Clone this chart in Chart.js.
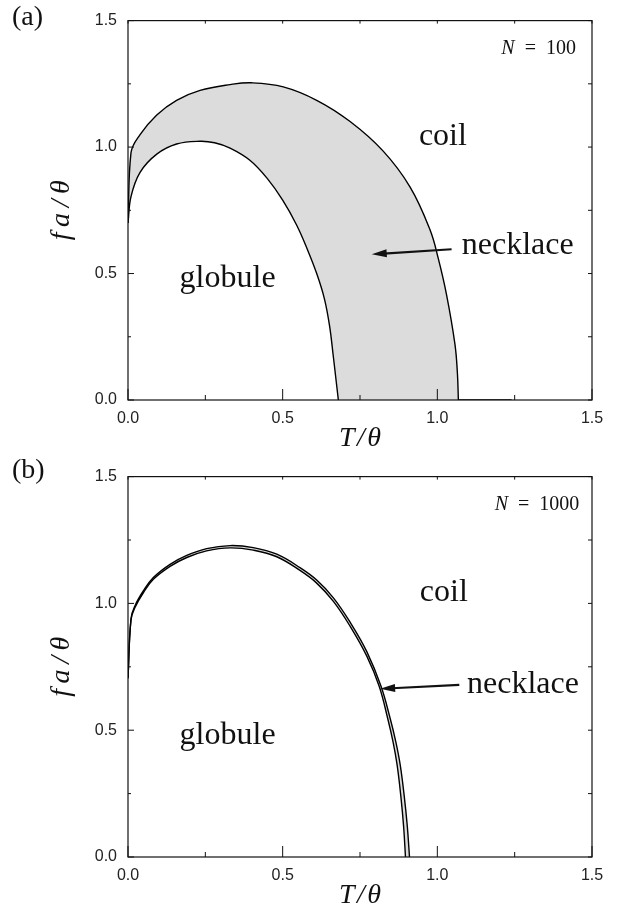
<!DOCTYPE html>
<html>
<head>
<meta charset="utf-8">
<script src="https://cdn.jsdelivr.net/npm/chart.js@4.4.0/dist/chart.umd.min.js"></script>
<style>
	body { margin:0; background:#fff; width:621px; height:907px; overflow:hidden; position:relative; }
	canvas { position:absolute; left:0; }
</style>
</head>
<body>
<canvas id="ca" width="621" height="460" style="top:0px"></canvas>
<canvas id="cb" width="621" height="451" style="top:456px"></canvas>
<script>
// panel (a), N = 100 : outer boundary (coil side) and inner boundary (globule side)
const aOuterT = [0, 0.0097, 0.039, 0.093, 0.157, 0.233, 0.33, 0.40, 0.502, 0.61, 0.718, 0.825, 0.912, 0.976, 1.003, 1.030, 1.057, 1.065, 1.068]
const aOuterF = [0.70, 0.978, 1.049, 1.127, 1.185, 1.224, 1.247, 1.254, 1.238, 1.185, 1.101, 0.984, 0.842, 0.674, 0.560, 0.415, 0.220, 0.104, 0]
const aInnerT = [0, 0.0097, 0.039, 0.093, 0.157, 0.233, 0.28, 0.33, 0.394, 0.45, 0.50, 0.545, 0.58, 0.61, 0.635, 0.652, 0.663, 0.672, 0.680]
const aInnerF = [0.70, 0.804, 0.90, 0.972, 1.012, 1.023, 1.017, 0.996, 0.948, 0.876, 0.790, 0.692, 0.595, 0.50, 0.40, 0.29, 0.18, 0.085, 0]
// coil line running on along f = 0
const aTailT = [1.068, 1.24]
const aTailF = [0, 0]

// panel (b), N = 1000 : the two boundaries almost coincide
const bOuterT = [0, 0.0097, 0.023, 0.05, 0.082, 0.136, 0.19, 0.254, 0.33, 0.405, 0.481, 0.556, 0.61, 0.664, 0.718, 0.772, 0.818, 0.848, 0.866, 0.880, 0.893, 0.903, 0.910]
const bOuterF = [0.705, 0.940, 0.992, 1.050, 1.102, 1.154, 1.189, 1.216, 1.228, 1.220, 1.194, 1.141, 1.092, 1.022, 0.926, 0.810, 0.673, 0.544, 0.453, 0.363, 0.240, 0.120, 0]
const bInnerT = [0, 0.0097, 0.023, 0.05, 0.082, 0.136, 0.19, 0.254, 0.33, 0.405, 0.481, 0.556, 0.61, 0.664, 0.718, 0.772, 0.812, 0.840, 0.857, 0.870, 0.882, 0.891, 0.897]
const bInnerF = [0.705, 0.935, 0.985, 1.043, 1.095, 1.146, 1.181, 1.207, 1.219, 1.210, 1.184, 1.130, 1.080, 1.008, 0.910, 0.792, 0.673, 0.544, 0.453, 0.363, 0.240, 0.120, 0]

// axes
const tickMajor = [0, 0.5, 1.0, 1.5]
const tickMinor = [0.25, 0.75, 1.25]

const pts = (t, f) => t.map((v, i) => ({x:v, y:f[i]}))
const serif = '"Liberation Serif", "Times New Roman", serif'
const sans = '"Liberation Sans", Arial, sans-serif'

// frame, inward ticks, axis titles and annotations
const deco = {
	id: 'deco',
	afterDraw(chart, args, o) {
		const {ctx, chartArea: ca, scales: {x, y}} = chart
		ctx.save()
		ctx.strokeStyle = '#111'
		ctx.lineWidth = 1.2
		ctx.strokeRect(ca.left, ca.top, ca.right - ca.left, ca.bottom - ca.top)
		ctx.lineWidth = 1
		const tick = (x1, y1, x2, y2) => { ctx.beginPath(); ctx.moveTo(x1, y1); ctx.lineTo(x2, y2); ctx.stroke() }
		tickMajor.concat(tickMinor).forEach(v => {
			const big = tickMajor.includes(v)
			const px = x.getPixelForValue(v), py = y.getPixelForValue(v)
			tick(px, ca.bottom, px, ca.bottom - (big ? 11 : 5))
			tick(px, ca.top, px, ca.top + 3)
			tick(ca.left, py, ca.left + (big ? 6 : 3), py)
			tick(ca.right, py, ca.right - 4, py)
		})

		ctx.fillStyle = '#111'
		// axis titles
		ctx.font = 'italic 28px ' + serif
		ctx.textAlign = 'center'
		ctx.textBaseline = 'middle'
		ctx.fillText('T\u200a/\u200aθ', (ca.left + ca.right) / 2, ca.bottom + 39)
		ctx.save()
		ctx.translate(62, (ca.top + ca.bottom) / 2)
		ctx.rotate(-Math.PI / 2)
		ctx.fillText('f\u2009a\u2009/\u2009θ', 0, 0)
		ctx.restore()

		// panel letter
		ctx.font = '28px ' + serif
		ctx.textAlign = 'left'
		ctx.fillText(o.panel, 12, o.panelY)

		// N = ...
		ctx.textAlign = 'right'
		ctx.font = '20px ' + serif
		const nx = x.getPixelForValue(o.n.x), ny = y.getPixelForValue(o.n.y)
		ctx.fillText('\u2002=\u2002' + o.n.t, nx, ny)
		const w = ctx.measureText('\u2002=\u2002' + o.n.t).width
		ctx.font = 'italic 20px ' + serif
		ctx.fillText('N', nx - w, ny)

		// region names
		ctx.font = '32px ' + serif
		ctx.textBaseline = 'alphabetic'
		o.labels.forEach(l => {
			ctx.textAlign = l.align
			ctx.fillText(l.t, x.getPixelForValue(l.x), y.getPixelForValue(l.y))
		})

		// arrow to the necklace band
		const x0 = x.getPixelForValue(o.arrow[0]), y0 = y.getPixelForValue(o.arrow[1])
		const x1 = x.getPixelForValue(o.arrow[2]), y1 = y.getPixelForValue(o.arrow[3])
		const ang = Math.atan2(y1 - y0, x1 - x0)
		ctx.lineWidth = 2.2
		ctx.beginPath()
		ctx.moveTo(x0, y0)
		ctx.lineTo(x1 - 12 * Math.cos(ang), y1 - 12 * Math.sin(ang))
		ctx.stroke()
		ctx.beginPath()
		ctx.moveTo(x1, y1)
		ctx.lineTo(x1 - 15 * Math.cos(ang) + 4 * Math.sin(ang), y1 - 15 * Math.sin(ang) - 4 * Math.cos(ang))
		ctx.lineTo(x1 - 15 * Math.cos(ang) - 4 * Math.sin(ang), y1 - 15 * Math.sin(ang) + 4 * Math.cos(ang))
		ctx.closePath()
		ctx.fill()
		ctx.restore()
	}
}

// the gray band: outer curve filled gray down to f = 0, inner curve filled white over it
const curve = (data, fillColor) => ({
	data: data,
	borderColor: '#000',
	borderWidth: 1.4,
	backgroundColor: fillColor || 'rgba(0,0,0,0)',
	fill: fillColor ? 'origin' : false,
	pointRadius: 0,
	tension: 0.4,
})

const panel = (id, datasets, padTop, xHeight, opts) => new Chart(document.getElementById(id), {
	type: 'line',
	data: { datasets: datasets },
	options: {
		responsive: false,
		animation: false,
		events: [],
		layout: { padding: { top: padTop, right: 29, left: 0, bottom: 0 } },
		plugins: {
			legend: { display: false },
			tooltip: { enabled: false },
			filler: { drawTime: 'beforeDatasetsDraw' },
			deco: opts,
		},
		scales: {
			x: {
				type: 'linear', min: 0, max: 1.5,
				grid: { display: false, drawTicks: false },
				border: { display: false },
				ticks: { stepSize: 0.5, padding: 9, color: '#222', font: { family: sans, size: 16 }, callback: v => v.toFixed(1) },
				afterFit: s => { s.height = xHeight },
			},
			y: {
				type: 'linear', min: 0, max: 1.5,
				grid: { display: false, drawTicks: false },
				border: { display: false },
				ticks: { stepSize: 0.5, padding: 11, color: '#222', font: { family: sans, size: 16 }, callback: v => v.toFixed(1) },
				afterFit: s => { s.width = 128 },
			}
		}
	},
	plugins: [deco]
})

// fills are painted from the last dataset to the first, so gray (index 1) goes under white (index 0)
panel('ca', [
	curve(pts(aInnerT, aInnerF), '#fff'),
	curve(pts(aOuterT, aOuterF), '#dcdcdc'),
	Object.assign(curve(pts(aTailT, aTailF)), { tension: 0 }),
], 14, 60, {
	panel: '(a)', panelY: 18,
	n: { t: '100', x: 1.448, y: 1.389 },
	labels: [
		{ t: 'coil', x: 1.018, y: 1.007, align: 'center' },
		{ t: 'globule', x: 0.322, y: 0.447, align: 'center' },
		{ t: 'necklace', x: 1.079, y: 0.576, align: 'left' },
	],
	arrow: [1.046, 0.596, 0.788, 0.576],
})

panel('cb', [
	curve(pts(bInnerT, bInnerF), '#fff'),
	curve(pts(bOuterT, bOuterF), '#dcdcdc'),
], 14, 50, {
	panel: '(b)', panelY: 15,
	n: { t: '1000', x: 1.459, y: 1.388 },
	labels: [
		{ t: 'coil', x: 1.021, y: 1.009, align: 'center' },
		{ t: 'globule', x: 0.322, y: 0.447, align: 'center' },
		{ t: 'necklace', x: 1.096, y: 0.647, align: 'left' },
	],
	arrow: [1.071, 0.679, 0.815, 0.663],
})
</script>
</body>
</html>
